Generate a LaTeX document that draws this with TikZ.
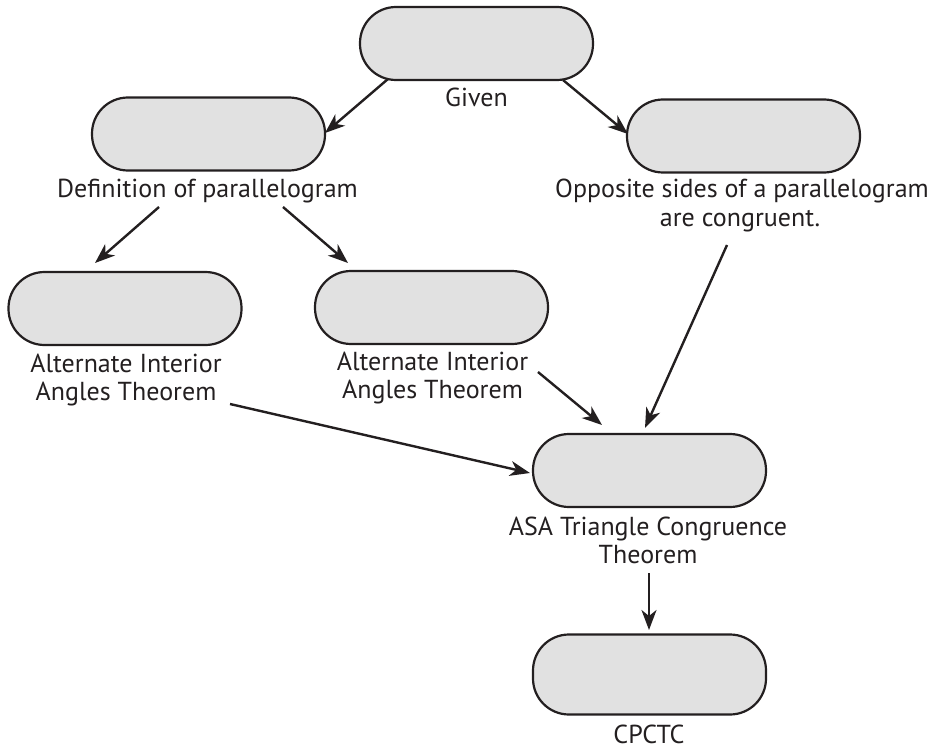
\documentclass[tikz,border=0pt]{standalone}
\usepackage{fontspec}
\setmainfont{PT Sans}
\usetikzlibrary{arrows.meta}
\definecolor{edge}{HTML}{231F20}
\definecolor{boxfill}{HTML}{E1E1E1}
\tikzset{
  pill/.style={draw=edge, line width=2.2pt, fill=boxfill, rectangle, rounded corners=36pt,
    minimum width=233pt, minimum height=73pt, inner sep=0pt},
  lbl/.style={anchor=base, font=\fontsize{26}{28}\selectfont, text=edge, inner sep=0pt, align=center},
  arr/.style={draw=edge, line width=2.4pt, -{Stealth[length=20pt,width=15pt,inset=6pt]}},
}
\begin{document}
\begin{tikzpicture}[x=1pt,y=-1pt]
\useasboundingbox (0,0) rectangle (932,749);
% boxes
\node[pill] (given) at (476.5,43.5) {};
\node[pill] (def)   at (208.5,134) {};
\node[pill] (opp)   at (743.5,136) {};
\node[pill] (altl)  at (125,308.5) {};
\node[pill] (altm)  at (431.5,307.5) {};
\node[pill] (asa)   at (649.5,470.5) {};
\node[pill, minimum height=80pt] (cpctc) at (649.5,674.5) {};
% labels
\node[lbl] (tgiven) at (476.5,107) {Given};
\node[lbl] (tdef) at (207.5,197) {Definition of parallelogram};
\node[lbl] (topp1) at (742,197) {Opposite sides of a parallelogram};
\node[lbl] (topp2) at (740,226) {are congruent.};
\node[lbl] (taltl1) at (126,372) {Alternate Interior};
\node[lbl] (taltl2) at (126,400) {Angles Theorem};
\node[lbl] (taltm1) at (432.5,370) {Alternate Interior};
\node[lbl] (taltm2) at (432.5,398) {Angles Theorem};
\node[lbl] (tasa1) at (648,535) {ASA Triangle Congruence};
\node[lbl] (tasa2) at (648,563) {Theorem};
\node[lbl] (tcp) at (649,743) {CPCTC};
% arrow end points
\coordinate (a1s) at (388,79);  \coordinate (a1e) at (325,133);
\coordinate (a2s) at (563,80);  \coordinate (a2e) at (628,134);
\coordinate (a3s) at (159,207); \coordinate (a3e) at (95,263);
\coordinate (a4s) at (283,207); \coordinate (a4e) at (348,263);
\coordinate (a5s) at (538,372); \coordinate (a5e) at (602,425);
\coordinate (a6s) at (727,245); \coordinate (a6e) at (645,428);
\coordinate (a7s) at (230,404); \coordinate (a7e) at (530,473);
\coordinate (a8s) at (649,573); \coordinate (a8e) at (649,630);
\draw[arr] (a1s) -- (a1e);
\draw[arr] (a2s) -- (a2e);
\draw[arr] (a3s) -- (a3e);
\draw[arr] (a4s) -- (a4e);
\draw[arr] (a5s) -- (a5e);
\draw[arr] (a6s) -- (a6e);
\draw[arr] (a7s) -- (a7e);
\draw[arr] (a8s) -- (a8e);
\end{tikzpicture}
\end{document}
